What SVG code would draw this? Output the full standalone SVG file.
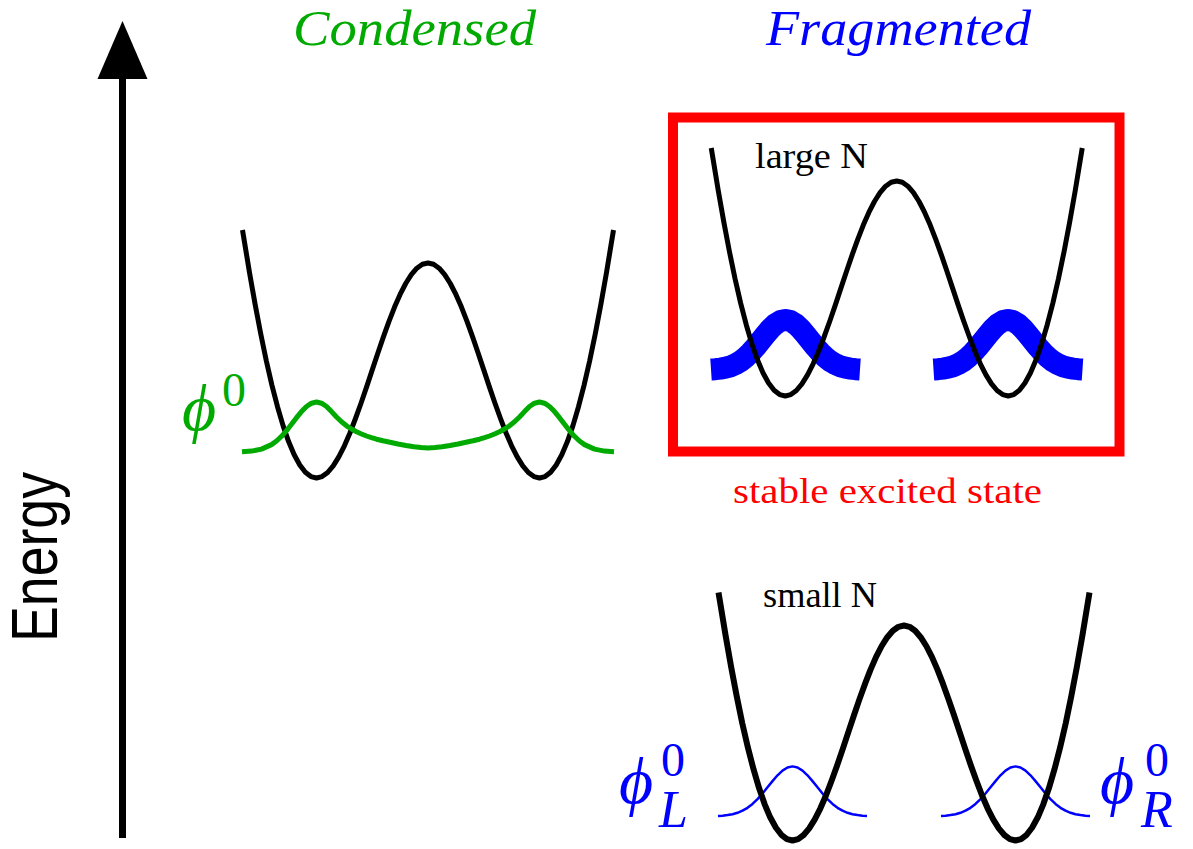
<svg xmlns="http://www.w3.org/2000/svg" xmlns:xlink="http://www.w3.org/1999/xlink" width="1193" height="849" viewBox="0 0 1193 849">
<style>
.serif{font-family:"Liberation Serif","DejaVu Serif",serif}
.it{font-style:italic}
.pot{fill:none;stroke:#000;stroke-width:5;stroke-linejoin:round}
.gthin{fill:none;stroke:#0000FF;stroke-width:2.5;stroke-linejoin:round}
.gthick{fill:none;stroke:#0000FF;stroke-width:22;stroke-linejoin:round;stroke-linecap:butt}
.green{fill:none;stroke:#00AA00;stroke-width:5;stroke-linejoin:round}
</style>
<defs>
<path id="well" d="M-185.5,-248 L-178.4,-204.9 L-172.8,-173.3 L-167.25,-144.1 L-161.7,-117.2 L-156.1,-92.9 L-150.5,-71.3 L-144.95,-52.4 L-139.4,-36.4 L-133.8,-23.2 L-128.2,-13 L-122.65,-5.7 L-117.1,-1.4 L-111.5,0 L-105.9,-1.4 L-100.35,-5.5 L-94.8,-12.1 L-89.2,-21.1 L-83.6,-32.2 L-78.05,-45 L-72.5,-59.5 L-66.9,-75 L-61.3,-91.4 L-55.75,-108.1 L-50.2,-124.8 L-44.6,-141.1 L-39,-156.6 L-33.45,-170.9 L-27.9,-183.6 L-22.3,-194.5 L-16.7,-203.3 L-11.15,-209.8 L-5.6,-213.7 L0,-215 L5.6,-213.7 L11.15,-209.8 L16.7,-203.3 L22.3,-194.5 L27.9,-183.6 L33.45,-170.9 L39,-156.6 L44.6,-141.1 L50.2,-124.8 L55.75,-108.1 L61.3,-91.4 L66.9,-75 L72.5,-59.5 L78.05,-45 L83.6,-32.2 L89.2,-21.1 L94.8,-12.1 L100.35,-5.5 L105.9,-1.4 L111.5,0 L117.1,-1.4 L122.65,-5.7 L128.2,-13 L133.8,-23.2 L139.4,-36.4 L144.95,-52.4 L150.5,-71.3 L156.1,-92.9 L161.7,-117.2 L167.25,-144.1 L172.8,-173.3 L178.4,-204.9 L185.5,-248"/>
<path id="gauss" d="M-74.5,-0.4 L-70,-0.7 L-65,-1.3 L-60,-2.2 L-55,-3.6 L-50,-5.7 L-45,-8.6 L-40,-12.5 L-35,-17.3 L-30,-22.9 L-25,-29.1 L-20,-35.3 L-15,-41.1 L-10,-45.8 L-5,-48.9 L0,-50 L5,-48.9 L10,-45.8 L15,-41.1 L20,-35.3 L25,-29.1 L30,-22.9 L35,-17.3 L40,-12.5 L45,-8.6 L50,-5.7 L55,-3.6 L60,-2.2 L65,-1.3 L70,-0.7 L74.5,-0.4"/>
</defs>

<g id="energy-axis">
<line x1="122.5" y1="76" x2="122.5" y2="838" stroke="#000" stroke-width="7"/>
<polygon points="122.5,21 97.5,79 147.5,79" fill="#000"/>
<text transform="translate(57,642) rotate(-90)" font-family="Liberation Sans, Arial, sans-serif" font-size="65" textLength="170" lengthAdjust="spacingAndGlyphs" fill="#000">Energy</text>
</g>

<g id="condensed">
<text class="serif it" x="293" y="44.5" font-size="50" textLength="243" lengthAdjust="spacingAndGlyphs" fill="#00AA00">Condensed</text>
<use xlink:href="#well" href="#well" class="pot" transform="translate(428,478)"/>
<polyline class="green" points="242,451.7 251.5,451.1 261.5,449.1 271.5,444.6 276.5,441 281.5,436.3 286.5,430.6 291.5,424.3 296.5,417.7 301.5,411.6 306.5,406.5 311.5,403.2 316.5,402 321.5,403.2 326.5,406.5 331.5,411.6 336.5,417 341.5,421.8 346.5,425.8 351.5,429 356.5,431.7 361.5,434 366.5,436 371.5,437.7 376.5,439.2 383,440.8 390,442.3 398,444 406,445.5 414,446.8 421,447.6 428,448 435,447.6 442,446.8 450,445.5 458,444 466,442.3 473,440.8 479.5,439.2 484.5,437.7 489.5,436 494.5,434 499.5,431.7 504.5,429 509.5,425.8 514.5,421.8 519.5,417 524.5,411.6 529.5,406.5 534.5,403.2 539.5,402 544.5,403.2 549.5,406.5 554.5,411.6 559.5,417.7 564.5,424.3 569.5,430.6 574.5,436.3 579.5,441 584.5,444.6 594.5,449.1 604.5,451.1 614,451.7"/>
<text class="serif it" x="182" y="430" font-size="66" fill="#00AA00">ϕ</text>
<text class="serif" x="222" y="406" font-size="48" fill="#00AA00">0</text>
</g>

<g id="fragmented-title">
<text class="serif it" x="766" y="44.5" font-size="50" textLength="265" lengthAdjust="spacingAndGlyphs" fill="#0000FF">Fragmented</text>
</g>

<g id="large-n">
<rect x="673" y="117.5" width="446.5" height="334" fill="none" stroke="#FF0000" stroke-width="10"/>
<text class="serif" x="755" y="168" font-size="35" textLength="113" lengthAdjust="spacingAndGlyphs" fill="#000">large N</text>
<use xlink:href="#gauss" href="#gauss" class="gthick" transform="translate(785.5,369.9)"/>
<use xlink:href="#gauss" href="#gauss" class="gthick" transform="translate(1008,369.9)"/>
<use xlink:href="#well" href="#well" class="pot" transform="translate(896.75,396)"/>
<text class="serif" x="733" y="503" font-size="35" textLength="309" lengthAdjust="spacingAndGlyphs" fill="#FF0000">stable excited state</text>
</g>

<g id="small-n">
<text class="serif" x="763" y="607" font-size="35" textLength="114" lengthAdjust="spacingAndGlyphs" fill="#000">small N</text>
<use xlink:href="#gauss" href="#gauss" class="gthin" transform="translate(792.5,816.4)"/>
<use xlink:href="#gauss" href="#gauss" class="gthin" transform="translate(1015.5,816.4)"/>
<use xlink:href="#well" href="#well" class="pot" style="stroke-width:6" transform="translate(904,840.5)"/>
<text class="serif it" x="619" y="803" font-size="66" fill="#0000FF">ϕ</text>
<text class="serif" x="661" y="776" font-size="48" fill="#0000FF">0</text>
<text class="serif it" x="659" y="827" font-size="52" fill="#0000FF">L</text>
<text class="serif it" x="1100" y="803" font-size="66" fill="#0000FF">ϕ</text>
<text class="serif" x="1145" y="776" font-size="48" fill="#0000FF">0</text>
<text class="serif it" x="1141" y="827" font-size="52" fill="#0000FF">R</text>
</g>
</svg>
